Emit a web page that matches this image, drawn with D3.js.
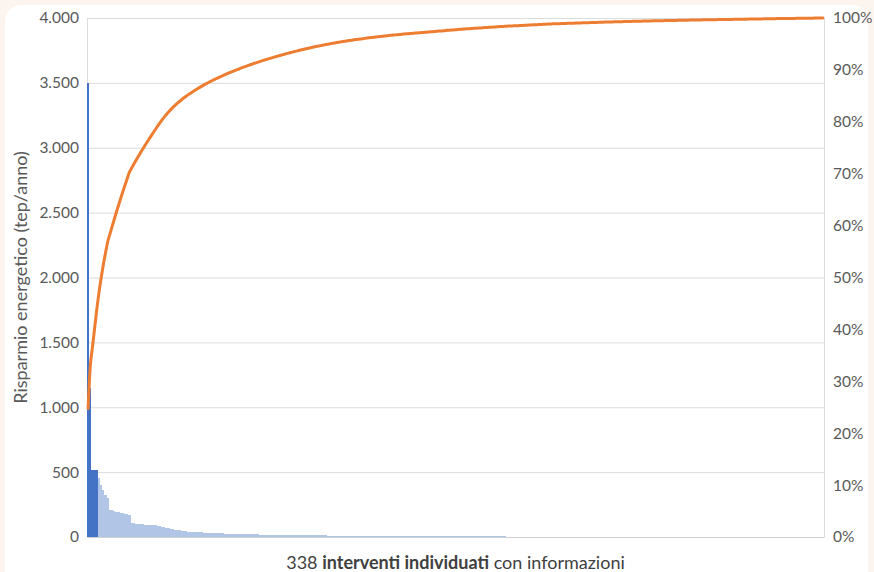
<!DOCTYPE html>
<html lang="it">
<head>
<meta charset="utf-8">
<script src="https://cdn.jsdelivr.net/npm/d3@7"></script>
<style>
  html, body { margin: 0; padding: 0; background: #fcf4ee; }
  svg { display: block; }
  text { font-family: Lato, "Open Sans", sans-serif; }
</style>
</head>
<body>
<svg id="chart" width="874" height="572"></svg>
<script>
// Risparmio energetico dei singoli interventi, in ordine decrescente (tep/anno)
const risparmio = [
  3500, 1150, 520, 520, 520,
  455, 400, 360, 320, 300, 210, 205, 200, 196, 192, 188, 184, 180, 176,
  172, 108, 106, 104, 102, 100,
  98, 96, 94, 92, 91, 90, 89, 88, 87,
  80, 76, 72, 68, 64, 60, 57, 54, 51, 48,
  46, 44, 42, 40, 39, 38, 37, 36, 35, 34, 33, 32, 31, 30, 29, 28,
  28, 27, 27, 26, 26, 25, 25, 24, 24, 23, 23, 22, 22, 21, 21,
  21, 20, 20, 20, 19, 19, 19, 18, 18, 18, 18, 17, 17, 17, 17, 16, 16, 16, 16,
  15, 15, 15, 15, 14, 14, 14, 14, 13, 13, 13, 13, 12, 12, 12, 12, 11, 11, 11,
  11, 10, 10, 10, 10, 9, 9, 9, 9, 9, 8, 8, 8, 8, 8, 8, 8, 7, 7, 7,
  7, 7, 7, 7, 6, 6, 6, 6, 6, 6, 6, 6, 5, 5, 5, 5, 5, 5, 5, 5,
  5, 5, 5, 5, 5, 5, 5, 5, 5, 5, 5, 5, 5, 5, 5, 5, 5, 5, 5, 5,
  4, 4, 4, 4, 4, 4, 4, 4, 4, 4, 4, 4, 4, 4, 4, 4, 4, 4, 4,
  3, 3, 3, 3, 3, 3, 3, 3, 3, 3,
  3, 3, 3, 3, 3, 3, 3, 3, 3, 3, 3, 3,
  2, 2, 2, 2, 2, 2, 2, 2, 2, 2, 2, 2, 2, 2, 2, 2, 2, 2, 2, 2, 2, 2, 2, 2, 2, 2,
  1.5, 1.5, 1.5, 1.5, 1.5, 1.5, 1.5, 1.5, 1.5, 1.5,
  1.5, 1.5, 1.5, 1.5, 1.5, 1.5, 1.5, 1.5, 1.5, 1.5,
  1.2, 1.2, 1.2, 1.2, 1.2, 1.2, 1.2, 1.2, 1.2, 1.2,
  1.2, 1.2, 1.2, 1.2, 1.2, 1.2, 1.2, 1.2, 1.2, 1.2,
  1, 1, 1, 1, 1, 1, 1, 1, 1, 1, 1, 1, 1, 1, 1, 1, 1, 1,
  1, 1, 1, 1, 1, 1, 1, 1, 1, 1, 1, 1, 1, 1, 1, 1, 1, 1, 1, 1,
  0.8, 0.8, 0.8, 0.8, 0.8, 0.8, 0.8, 0.8, 0.8, 0.8,
  0.8, 0.8, 0.8, 0.8, 0.8, 0.8, 0.8, 0.8, 0.8, 0.8
];

// Numero di interventi principali evidenziati in blu scuro
const interventiPrincipali = 5;

// Tacche degli assi
const tickRisparmio = [0, 500, 1000, 1500, 2000, 2500, 3000, 3500, 4000];
const tickCumulata = [0, 0.1, 0.2, 0.3, 0.4, 0.5, 0.6, 0.7, 0.8, 0.9, 1];

// Testi
const titoloY = "Risparmio energetico (tep/anno)";
const titoloX = [
  { t: String(risparmio.length) + " ", bold: false },
  { t: "interventi individuati", bold: true },
  { t: " con informazioni", bold: false }
];

// Percentuale cumulata del risparmio
const totale = d3.sum(risparmio);
const cumulata = d3.cumsum(risparmio).map(v => v / totale);

const svg = d3.select("#chart");
const W = 874, H = 572;
const margin = { top: 18, right: 50, bottom: 35, left: 87 };
const iw = W - margin.left - margin.right;
const ih = H - margin.top - margin.bottom;

// Pannello bianco arrotondato
svg.append("rect")
  .attr("x", 5).attr("y", 5)
  .attr("width", 863).attr("height", 590)
  .attr("rx", 16)
  .attr("fill", "#ffffff");

const g = svg.append("g").attr("transform", `translate(${margin.left},${margin.top})`);

const x = d3.scaleBand()
  .domain(d3.range(risparmio.length))
  .range([0, iw])
  .padding(0);

const y = d3.scaleLinear().domain([0, 4000]).range([ih, 0]);
const y2 = d3.scaleLinear().domain([0, 1]).range([ih, 0]);

// Griglia
g.append("g")
  .selectAll("line")
  .data(tickRisparmio)
  .join("line")
  .attr("x1", 0).attr("x2", iw)
  .attr("y1", d => y(d) + 0.5).attr("y2", d => y(d) + 0.5)
  .attr("stroke", "#dcdcdc")
  .attr("stroke-width", 1);

// Bordo dell'area del grafico
g.append("rect")
  .attr("x", 0.5).attr("y", 0.5)
  .attr("width", iw).attr("height", ih)
  .attr("fill", "none")
  .attr("stroke", "#dcdcdc");

// Barre
g.append("g")
  .attr("shape-rendering", "crispEdges")
  .selectAll("rect")
  .data(risparmio)
  .join("rect")
  .attr("x", (d, i) => x(i))
  .attr("width", x.bandwidth())
  .attr("y", d => y(d))
  .attr("height", d => ih - y(d))
  .attr("fill", (d, i) => i < interventiPrincipali ? "#4472c4" : "#b1c5e7");

// Asse di base
g.append("line")
  .attr("x1", 0).attr("x2", iw)
  .attr("y1", ih + 0.5).attr("y2", ih + 0.5)
  .attr("stroke", "#d0d0d0");

// Curva cumulata
const linea = d3.line()
  .x((d, i) => x(i) + x.bandwidth() / 2)
  .y(d => y2(d))
  .curve(d3.curveMonotoneX);

g.append("path")
  .datum(cumulata)
  .attr("d", linea)
  .attr("fill", "none")
  .attr("stroke", "#ed7d31")
  .attr("stroke-width", 3)
  .attr("stroke-linejoin", "round")
  .attr("stroke-linecap", "round");

// Asse sinistro
const itLocale = d3.formatLocale({ decimal: ",", thousands: ".", grouping: [3], currency: ["", " €"] });
const fmtNum = itLocale.format(",.0f");

const axL = g.append("g")
  .call(d3.axisLeft(y).tickValues(tickRisparmio).tickFormat(fmtNum).tickSize(0).tickPadding(8));
axL.select(".domain").remove();
axL.selectAll("text")
  .attr("fill", "#595959")
  .style("font-size", "15.5px")
  .style("font-family", "Lato, 'Open Sans', sans-serif");

// Asse destro
const axR = g.append("g")
  .attr("transform", `translate(${iw},0)`)
  .call(d3.axisRight(y2).tickValues(tickCumulata).tickFormat(d3.format(".0%")).tickSize(0).tickPadding(9));
axR.select(".domain").remove();
axR.selectAll("text")
  .attr("fill", "#595959")
  .style("font-size", "15.5px")
  .style("font-family", "Lato, 'Open Sans', sans-serif");

// Titolo asse Y
svg.append("text")
  .attr("transform", `translate(27,${margin.top + ih / 2}) rotate(-90)`)
  .attr("text-anchor", "middle")
  .attr("fill", "#595959")
  .style("font-size", "18px")
  .text(titoloY);

// Titolo asse X
const tx = svg.append("text")
  .attr("x", margin.left + iw / 2)
  .attr("y", 569)
  .attr("text-anchor", "middle")
  .attr("fill", "#404040")
  .style("font-size", "18px");
tx.selectAll("tspan")
  .data(titoloX)
  .join("tspan")
  .attr("font-weight", d => d.bold ? "bold" : "normal")
  .text(d => d.t);
</script>
</body>
</html>
